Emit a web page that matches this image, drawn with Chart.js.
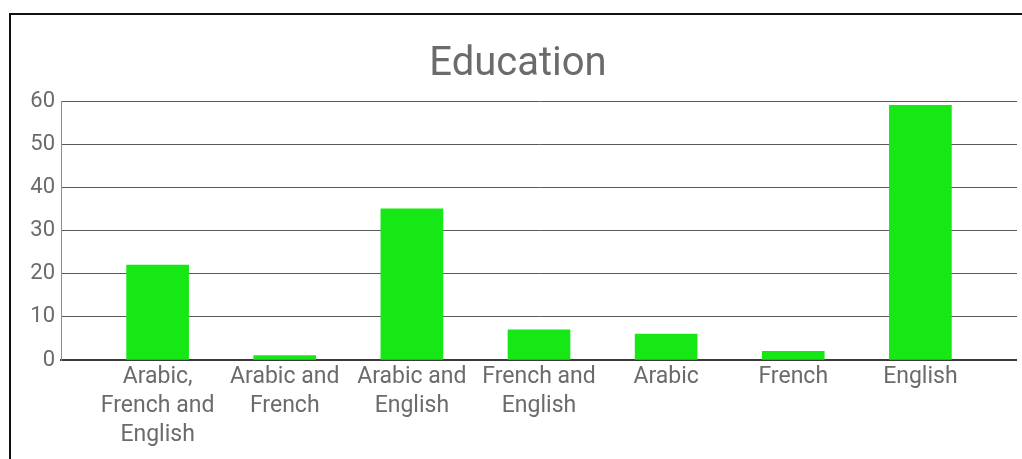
<!DOCTYPE html>
<html>
<head>
<meta charset="utf-8">
<title>Education</title>
<script src="https://cdn.jsdelivr.net/npm/chart.js@4.4.0/dist/chart.umd.min.js"></script>
<style>
    body {
        margin: 0;
        background: #fff;
        overflow: hidden;
    }
    .chart-box {
        position: absolute;
        left: 9px;
        top: 13px;
        width: 1040px;
        height: 480px;
        border: 2px solid #111;
        background: #fff;
    }
</style>
</head>
<body>
<div class="chart-box">
    <canvas id="educationChart" width="1006" height="450"></canvas>
</div>
<script>
const categories = [
    'Arabic, French and English',
    'Arabic and French',
    'Arabic and English',
    'French and English',
    'Arabic',
    'French',
    'English'
];
const tickLabels = [
    ['Arabic,', 'French and', 'English'],
    ['Arabic and', 'French'],
    ['Arabic and', 'English'],
    ['French and', 'English'],
    ['Arabic'],
    ['French'],
    ['English']
];
const counts = [22, 1, 35, 7, 6, 2, 59];
const yTicks = [0, 10, 20, 30, 40, 50, 60];

const textColor = '#6b6b6b';

document.addEventListener('DOMContentLoaded', function() {
    initializeChart();
});

function initializeChart() {
    const ctx = document.getElementById('educationChart').getContext('2d');
    const chart = new Chart(ctx, {
        type: 'bar',
        data: {
            datasets: [{
                label: 'Education',
                data: counts.map((v, i) => ({ x: i, y: v })),
                backgroundColor: '#16e816',
                borderWidth: 0,
                barThickness: 62
            }]
        },
        options: {
            responsive: false,
            animation: false,
            layout: {
                // left padding nudges the title centre to the right
                padding: { left: 8, right: 0, top: 0, bottom: 0 }
            },
            plugins: {
                legend: { display: false },
                tooltip: { enabled: false },
                title: {
                    display: true,
                    text: 'Education',
                    color: textColor,
                    font: { family: 'Roboto', size: 40, weight: 'normal', lineHeight: 1.2 },
                    padding: { top: 26, bottom: 12 }
                }
            },
            scales: {
                x: {
                    type: 'linear',
                    offset: false,
                    min: -0.76,
                    max: categories.length - 1 + 0.76,
                    afterBuildTicks: scale => {
                        scale.ticks = categories.map((c, i) => ({ value: i }));
                    },
                    afterFit: scale => {
                        scale.height = 105;
                    },
                    grid: { display: false, drawTicks: false, offset: false },
                    border: { display: true, color: '#3a3a3a', width: 2 },
                    ticks: {
                        autoSkip: false,
                        maxRotation: 0,
                        padding: 3,
                        color: textColor,
                        font: { family: 'Roboto', size: 23, lineHeight: 1.26 },
                        callback: value => tickLabels[value] || ''
                    }
                },
                y: {
                    min: 0,
                    max: 60,
                    afterBuildTicks: scale => {
                        scale.ticks = yTicks.map(v => ({ value: v }));
                    },
                    afterFit: scale => {
                        scale.width = 42;
                    },
                    grid: { color: '#5a5a5a', lineWidth: 1, drawTicks: false },
                    border: { display: true, color: '#8a8a8a', width: 1 },
                    ticks: {
                        padding: 6,
                        color: textColor,
                        font: { family: 'Roboto', size: 22 }
                    }
                }
            }
        }
    });

    window.educationChart = chart;
}
</script>
</body>
</html>
